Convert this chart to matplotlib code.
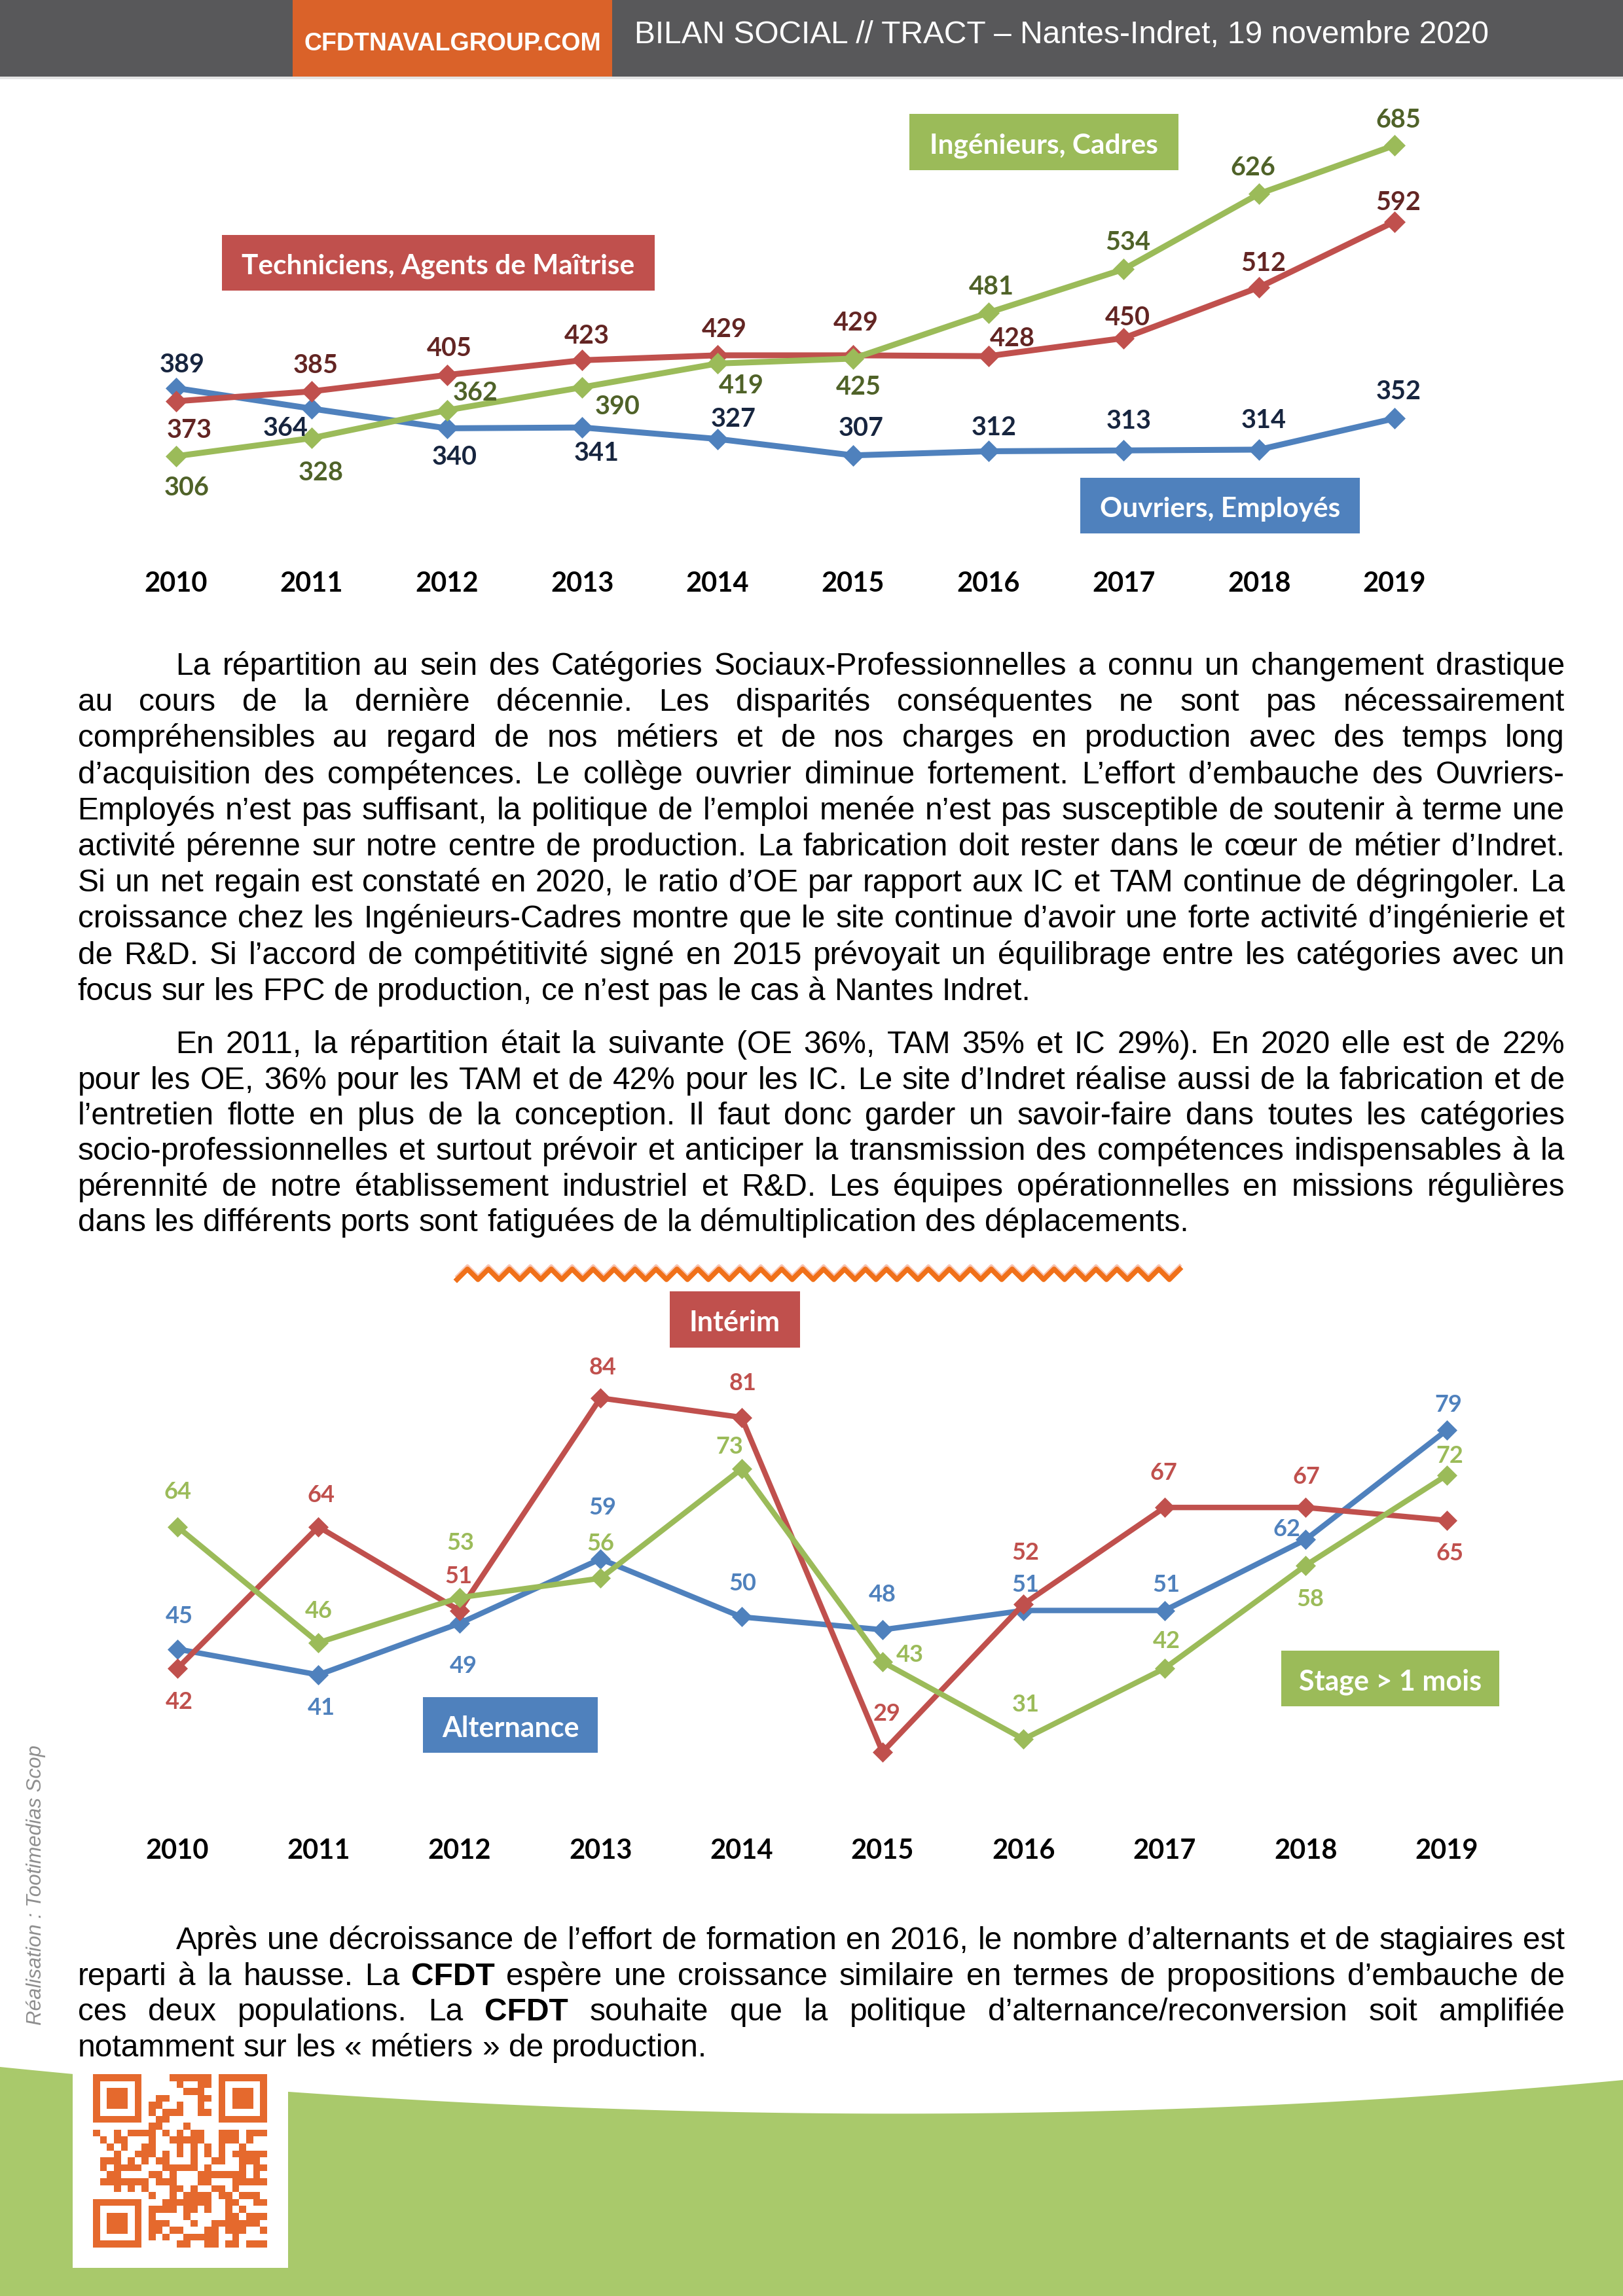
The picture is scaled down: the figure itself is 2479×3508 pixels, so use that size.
import hashlib
import numpy as np
import matplotlib
matplotlib.use("Agg")
import matplotlib.pyplot as plt
from matplotlib.patches import Rectangle, Polygon
from matplotlib.lines import Line2D

# page size in pixels (A4 at 300 dpi), drawn at 100 dpi
W, H = 2479, 3508
DPI = 100

years = [2010, 2011, 2012, 2013, 2014, 2015, 2016, 2017, 2018, 2019]

# top chart: staff per socio-professional category
ouvriers = [389, 364, 340, 341, 327, 307, 312, 313, 314, 352]
techniciens = [373, 385, 405, 423, 429, 429, 428, 450, 512, 592]
ingenieurs = [306, 328, 362, 390, 419, 425, 481, 534, 626, 685]

# bottom chart: alternance / interim / internships
alternance = [45, 41, 49, 59, 50, 48, 51, 51, 62, 79]
interim = [42, 64, 51, 84, 81, 29, 52, 67, 67, 65]
stage = [64, 46, 53, 56, 73, 43, 31, 42, 58, 72]

BLUE, RED, GREEN = "#4F81BD", "#C0504D", "#9BBB59"
DARK_BLUE, DARK_RED, DARK_GREEN = "#17253F", "#632523", "#4F6228"
CHART_FONT = "Lato"
BODY_FONT = "Liberation Sans"
BODY_SIZE = 34.5

# label offsets (pixels, y downwards) relative to each point
off_ouvriers = [(9, -39), (-40, 27), (12, 41), (22, 36), (24, -34), (12, -45), (9, -39), (8, -48), (7, -48), (6, -44)]
off_techniciens = [(20, 41), (6, -43), (4, -44), (7, -40), (10, -43), (4, -53), (37, -30), (6, -35), (7, -40), (6, -33)]
off_ingenieurs = [(16, 45), (14, 50), (44, -30), (54, 26), (36, 31), (8, 40), (5, -43), (6, -44), (-9, -43), (6, -42)]
off_alternance = [(3, -53), (4, 48), (6, 62), (3, -81), (2, -54), (0, -57), (3, -42), (3, -42), (-29, -19), (3, -42)]
off_interim = [(3, 48), (4, -51), (-1, -55), (3, -50), (2, -55), (7, -61), (3, -81), (-1, -56), (1, -50), (5, 48)]
off_stage = [(0, -56), (0, -51), (2, -86), (0, -56), (-18, -37), (42, -14), (3, -56), (3, -45), (7, 49), (5, -33)]

para1 = [
    "La répartition au sein des Catégories Sociaux-Professionnelles a connu un changement drastique",
    "au cours de la dernière décennie. Les disparités conséquentes ne sont pas nécessairement",
    "compréhensibles au regard de nos métiers et de nos charges en production avec des temps long",
    "d’acquisition des compétences. Le collège ouvrier diminue fortement. L’effort d’embauche des Ouvriers-",
    "Employés n’est pas suffisant, la politique de l’emploi menée n’est pas susceptible de soutenir à terme une",
    "activité pérenne sur notre centre de production. La fabrication doit rester dans le cœur de métier d’Indret.",
    "Si un net regain est constaté en 2020, le ratio d’OE par rapport aux IC et TAM continue de dégringoler. La",
    "croissance chez les Ingénieurs-Cadres montre que le site continue d’avoir une forte activité d’ingénierie et",
    "de R&D. Si l’accord de compétitivité signé en 2015 prévoyait un équilibrage entre les catégories avec un",
    "focus sur les FPC de production, ce n’est pas le cas à Nantes Indret.",
]
para2 = [
    "En 2011, la répartition était la suivante (OE 36%, TAM 35% et IC 29%). En 2020 elle est de 22%",
    "pour les OE, 36% pour les TAM et de 42% pour les IC. Le site d’Indret réalise aussi de la fabrication et de",
    "l’entretien flotte en plus de la conception. Il faut donc garder un savoir-faire dans toutes les catégories",
    "socio-professionnelles et surtout prévoir et anticiper la transmission des compétences indispensables à la",
    "pérennité de notre établissement industriel et R&D. Les équipes opérationnelles en missions régulières",
    "dans les différents ports sont fatiguées de la démultiplication des déplacements.",
]
para3 = [
    "Après une décroissance de l’effort de formation en 2016, le nombre d’alternants et de stagiaires est",
    "reparti à la hausse. La CFDT espère une croissance similaire en termes de propositions d’embauche de",
    "ces deux populations. La CFDT souhaite que la politique d’alternance/reconversion soit amplifiée",
    "notamment sur les « métiers » de production.",
]

fig = plt.figure(figsize=(W / DPI, H / DPI), dpi=DPI)
fig.patch.set_facecolor("white")


def fx(x):
    return x / W


def fy(y):
    return 1 - y / H


def px_rect(x0, y0, x1, y1, color, z=1):
    r = Rectangle((fx(x0), fy(y1)), (x1 - x0) / W, (y1 - y0) / H,
                  transform=fig.transFigure, facecolor=color, edgecolor="none", zorder=z)
    fig.add_artist(r)


def label_box(x0, y0, x1, y1, color, text, size):
    px_rect(x0, y0, x1, y1, color, z=5)
    fig.text(fx((x0 + x1) / 2), fy((y0 + y1) / 2 + 2), text, color="white", fontsize=size,
             fontweight="bold", family=CHART_FONT, ha="center", va="center_baseline", zorder=6)


def axes_px(left, top, right, bottom):
    ax = fig.add_axes([fx(left), fy(bottom), (right - left) / W, (bottom - top) / H])
    ax.set_facecolor("none")
    for s in ax.spines.values():
        s.set_visible(False)
    ax.set_yticks([])
    return ax


def draw_series(ax, values, color, lcolor, offsets, size, lw, ms):
    ax.plot(years, values, color=color, lw=lw, marker="D", ms=ms, mec=color, mew=0.5,
            solid_joinstyle="round", solid_capstyle="round")
    for x, v, (dx, dy) in zip(years, values, offsets):
        ax.annotate(str(v), (x, v), xytext=(dx, -dy), textcoords="offset pixels",
                    ha="center", va="center_baseline", fontsize=size, fontweight="bold",
                    color=lcolor, family=CHART_FONT, annotation_clip=False)


def year_axis(ax, size, pad):
    ax.set_xticks(years)
    ax.set_xticklabels([str(y) for y in years], fontsize=size, fontweight="bold",
                       family=CHART_FONT, color="black")
    ax.tick_params(axis="x", length=0, pad=pad)


# ---- header ----
px_rect(0, 0, W, 117, "#58585A")
px_rect(0, 117, W, 121, "#E4E4E4")
px_rect(447, 0, 935, 117, "#DA6229", z=2)
fig.text(fx(691), fy(67), "CFDTNAVALGROUP.COM", color="white", fontsize=27, fontweight="bold",
         family=BODY_FONT, ha="center", va="center", zorder=3)
fig.text(fx(969), fy(54), "BILAN SOCIAL // TRACT – Nantes-Indret, 19 novembre 2020",
         color="white", fontsize=34.5, family=BODY_FONT, ha="left", va="center", zorder=3)

# ---- top chart ----
ax1 = axes_px(103.6, 153.2, 2295.4, 829.8)
ax1.set_xlim(2009.2, 2019.8)
ax1.set_ylim(200, 740)
draw_series(ax1, ouvriers, BLUE, DARK_BLUE, off_ouvriers, 28.5, 6.5, 16.5)
draw_series(ax1, techniciens, RED, DARK_RED, off_techniciens, 28.5, 6.5, 16.5)
draw_series(ax1, ingenieurs, GREEN, DARK_GREEN, off_ingenieurs, 28.5, 6.5, 16.5)
year_axis(ax1, 30, 31)

label_box(338.5, 358.6, 1000.4, 443.8, RED, "Techniciens, Agents de Maîtrise", 30.5)
label_box(1388.7, 174.4, 1800, 259.6, GREEN, "Ingénieurs, Cadres", 30.5)
label_box(1649.6, 729.5, 2076.7, 814.7, BLUE, "Ouvriers, Employés", 30.5)

# ---- body text (justified) ----
renderer = fig.canvas.get_renderer()


def measure(s, weight="normal"):
    t = fig.text(0, 0, s, fontsize=BODY_SIZE, family=BODY_FONT, weight=weight)
    w = t.get_window_extent(renderer).width
    t.remove()
    return w


SPACE = measure("a a") - measure("aa")


def paragraph(lines, y_first, step, x_left=118.6, x_right=2390, indent=150, bold=()):
    for i, line in enumerate(lines):
        words = line.split(" ")
        x0 = x_left + (indent if i == 0 else 0)
        y = y_first + i * step
        items = []
        for w in words:
            t = fig.text(0, fy(y), w, fontsize=BODY_SIZE, family=BODY_FONT,
                         weight="bold" if w in bold else "normal", va="baseline", ha="left")
            items.append(t)
        widths = [t.get_window_extent(renderer).width for t in items]
        last = i == len(lines) - 1
        if not last and len(words) > 1:
            gap = (x_right - x0 - sum(widths)) / (len(words) - 1)
        else:
            gap = SPACE
        x = x0
        for t, w in zip(items, widths):
            t.set_x(fx(x))
            x += w + gap


paragraph(para1, 1031, 55.2)
paragraph(para2, 1609, 54.5)
paragraph(para3, 2978, 54.7, bold=("CFDT",))

# ---- orange zigzag separator ----
zx = np.arange(698, 1812, 16)
zy = np.where(np.arange(len(zx)) % 2 == 0, 1955, 1939)
fig.add_artist(Line2D(fx(zx), fy(zy - 5), transform=fig.transFigure, color="#F9C3B0", lw=3.5))
fig.add_artist(Line2D(fx(zx), fy(zy), transform=fig.transFigure, color="#F07019", lw=5.5))

# ---- bottom chart ----
ax2 = axes_px(98.7, 2077, 2381.9, 2765.5)
ax2.set_xlim(2009.2, 2019.8)
ax2.set_ylim(20, 90)
draw_series(ax2, alternance, BLUE, BLUE, off_alternance, 26, 6, 15.5)
draw_series(ax2, interim, RED, RED, off_interim, 26, 6, 15.5)
draw_series(ax2, stage, GREEN, GREEN, off_stage, 26, 6, 15.5)
year_axis(ax2, 30, 31)

label_box(1023, 1973, 1222, 2059, RED, "Intérim", 31)
label_box(646, 2593, 913, 2678, BLUE, "Alternance", 31)
label_box(1957, 2522, 2290, 2607, GREEN, "Stage > 1 mois", 31)

# ---- side credit ----
fig.text(fx(55), fy(2880), "Réalisation : Tootimedias Scop", rotation=90, color="#8E8E8E",
         fontsize=22.5, style="italic", family=BODY_FONT, ha="center", va="center")

# ---- green footer with curved top ----
t = np.linspace(0, 1, 200)
bx = 2 * t * (1 - t) * 1300 + t ** 2 * W
by = (1 - t) ** 2 * 3158 + 2 * t * (1 - t) * 3290 + t ** 2 * 3178
pts = [(fx(a), fy(b)) for a, b in zip(bx, by)] + [(1, 0), (0, 0)]
fig.add_artist(Polygon(pts, closed=True, transform=fig.transFigure,
                       facecolor="#A9C96B", edgecolor="none", zorder=1))

# ---- QR code block (decorative pattern) ----
px_rect(111, 3164, 440, 3465, "white", z=2)
n = 25
grid = np.zeros((n, n))
for r in range(n):
    bits = hashlib.sha256(("cfdtnavalgroup-%d" % r).encode()).digest()
    row = np.unpackbits(np.frombuffer(bits, dtype=np.uint8))[:n]
    grid[r] = row
for (r0, c0) in [(0, 0), (0, n - 7), (n - 7, 0)]:
    rs = slice(max(r0 - 1, 0), min(r0 + 8, n))
    cs = slice(max(c0 - 1, 0), min(c0 + 8, n))
    grid[rs, cs] = 0
    grid[r0:r0 + 7, c0:c0 + 7] = 1
    grid[r0 + 1:r0 + 6, c0 + 1:c0 + 6] = 0
    grid[r0 + 2:r0 + 5, c0 + 2:c0 + 5] = 1
axq = fig.add_axes([fx(142), fy(3434), (408 - 142) / W, (3434 - 3169) / H])
axq.imshow(grid, cmap=matplotlib.colors.ListedColormap(["white", "#E5692D"]),
           interpolation="nearest", aspect="auto")
axq.axis("off")
axq.set_zorder(3)

fig.savefig("out.png", dpi=DPI)
